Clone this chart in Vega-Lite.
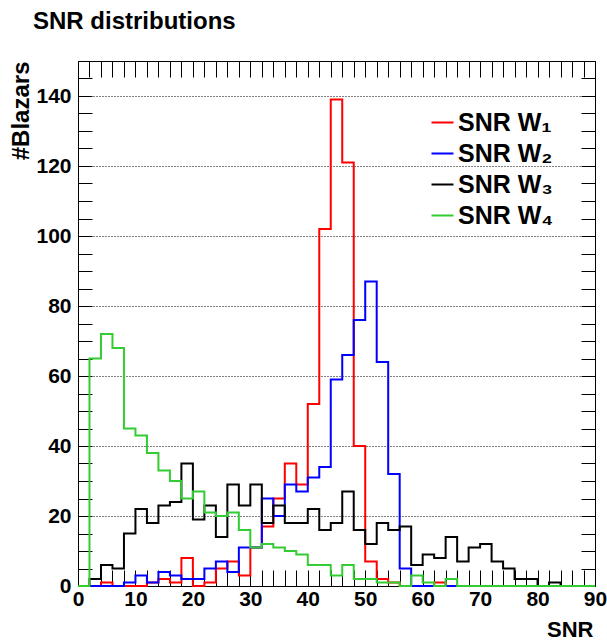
{
  "$schema": "https://vega.github.io/schema/vega-lite/v6.json",
  "width": 517,
  "height": 525,
  "autosize": {"type": "none"},
  "padding": {"left": 78, "top": 61, "right": 12, "bottom": 56},
  "background": "white",
  "config": {
    "font": "Liberation Sans",
    "view": {"stroke": "black", "strokeWidth": 1},
    "axis": {
      "domain": false,
      "labelFont": "Liberation Sans",
      "labelFontWeight": "bold",
      "labelFontSize": 21,
      "labelColor": "black",
      "tickColor": "black",
      "tickWidth": 1,
      "titleFont": "Liberation Sans",
      "titleFontWeight": "bold",
      "titleColor": "black",
      "labelOverlap": false,
      "labelFlush": false,
      "labelBound": false
    }
  },
  "title": {
    "text": "SNR distributions",
    "anchor": "start",
    "frame": "group",
    "font": "Liberation Sans",
    "fontSize": 24,
    "fontWeight": "bold",
    "color": "black",
    "baseline": "alphabetic",
    "offset": 16,
    "dx": -45,
    "dy": 19
  },
  "data": {
    "values": [
      {"s":"SNR W\u2081","x":0,"n":0},{"s":"SNR W\u2081","x":2,"n":0},{"s":"SNR W\u2081","x":4,"n":1},{"s":"SNR W\u2081","x":6,"n":0},{"s":"SNR W\u2081","x":8,"n":0},{"s":"SNR W\u2081","x":10,"n":0},{"s":"SNR W\u2081","x":12,"n":1},{"s":"SNR W\u2081","x":14,"n":2},{"s":"SNR W\u2081","x":16,"n":1},{"s":"SNR W\u2081","x":18,"n":8},{"s":"SNR W\u2081","x":20,"n":0},{"s":"SNR W\u2081","x":22,"n":1},{"s":"SNR W\u2081","x":24,"n":5},{"s":"SNR W\u2081","x":26,"n":7},{"s":"SNR W\u2081","x":28,"n":3},{"s":"SNR W\u2081","x":30,"n":11},{"s":"SNR W\u2081","x":32,"n":17},{"s":"SNR W\u2081","x":34,"n":25},{"s":"SNR W\u2081","x":36,"n":35},{"s":"SNR W\u2081","x":38,"n":29},{"s":"SNR W\u2081","x":40,"n":52},{"s":"SNR W\u2081","x":42,"n":102},{"s":"SNR W\u2081","x":44,"n":139},{"s":"SNR W\u2081","x":46,"n":121},{"s":"SNR W\u2081","x":48,"n":40},{"s":"SNR W\u2081","x":50,"n":7},{"s":"SNR W\u2081","x":52,"n":2},{"s":"SNR W\u2081","x":54,"n":1},{"s":"SNR W\u2081","x":56,"n":0},{"s":"SNR W\u2081","x":58,"n":0},{"s":"SNR W\u2081","x":60,"n":0},{"s":"SNR W\u2081","x":62,"n":1},{"s":"SNR W\u2081","x":64,"n":0},{"s":"SNR W\u2081","x":66,"n":0},{"s":"SNR W\u2081","x":68,"n":0},{"s":"SNR W\u2081","x":70,"n":0},{"s":"SNR W\u2081","x":72,"n":0},{"s":"SNR W\u2081","x":74,"n":0},{"s":"SNR W\u2081","x":76,"n":0},{"s":"SNR W\u2081","x":78,"n":0},{"s":"SNR W\u2081","x":80,"n":0},{"s":"SNR W\u2081","x":82,"n":0},{"s":"SNR W\u2081","x":84,"n":0},{"s":"SNR W\u2081","x":86,"n":0},{"s":"SNR W\u2081","x":88,"n":0},{"s":"SNR W\u2081","x":90,"n":0},
      {"s":"SNR W\u2082","x":0,"n":0},{"s":"SNR W\u2082","x":2,"n":0},{"s":"SNR W\u2082","x":4,"n":0},{"s":"SNR W\u2082","x":6,"n":0},{"s":"SNR W\u2082","x":8,"n":1},{"s":"SNR W\u2082","x":10,"n":3},{"s":"SNR W\u2082","x":12,"n":1},{"s":"SNR W\u2082","x":14,"n":4},{"s":"SNR W\u2082","x":16,"n":3},{"s":"SNR W\u2082","x":18,"n":2},{"s":"SNR W\u2082","x":20,"n":2},{"s":"SNR W\u2082","x":22,"n":5},{"s":"SNR W\u2082","x":24,"n":7},{"s":"SNR W\u2082","x":26,"n":4},{"s":"SNR W\u2082","x":28,"n":11},{"s":"SNR W\u2082","x":30,"n":11},{"s":"SNR W\u2082","x":32,"n":25},{"s":"SNR W\u2082","x":34,"n":20},{"s":"SNR W\u2082","x":36,"n":29},{"s":"SNR W\u2082","x":38,"n":27},{"s":"SNR W\u2082","x":40,"n":31},{"s":"SNR W\u2082","x":42,"n":34},{"s":"SNR W\u2082","x":44,"n":59},{"s":"SNR W\u2082","x":46,"n":66},{"s":"SNR W\u2082","x":48,"n":76},{"s":"SNR W\u2082","x":50,"n":87},{"s":"SNR W\u2082","x":52,"n":64},{"s":"SNR W\u2082","x":54,"n":32},{"s":"SNR W\u2082","x":56,"n":5},{"s":"SNR W\u2082","x":58,"n":0},{"s":"SNR W\u2082","x":60,"n":0},{"s":"SNR W\u2082","x":62,"n":0},{"s":"SNR W\u2082","x":64,"n":0},{"s":"SNR W\u2082","x":66,"n":0},{"s":"SNR W\u2082","x":68,"n":0},{"s":"SNR W\u2082","x":70,"n":0},{"s":"SNR W\u2082","x":72,"n":0},{"s":"SNR W\u2082","x":74,"n":0},{"s":"SNR W\u2082","x":76,"n":0},{"s":"SNR W\u2082","x":78,"n":0},{"s":"SNR W\u2082","x":80,"n":0},{"s":"SNR W\u2082","x":82,"n":0},{"s":"SNR W\u2082","x":84,"n":0},{"s":"SNR W\u2082","x":86,"n":0},{"s":"SNR W\u2082","x":88,"n":0},{"s":"SNR W\u2082","x":90,"n":0},
      {"s":"SNR W\u2083","x":0,"n":0},{"s":"SNR W\u2083","x":2,"n":2},{"s":"SNR W\u2083","x":4,"n":6},{"s":"SNR W\u2083","x":6,"n":5},{"s":"SNR W\u2083","x":8,"n":15},{"s":"SNR W\u2083","x":10,"n":22},{"s":"SNR W\u2083","x":12,"n":18},{"s":"SNR W\u2083","x":14,"n":23},{"s":"SNR W\u2083","x":16,"n":24},{"s":"SNR W\u2083","x":18,"n":35},{"s":"SNR W\u2083","x":20,"n":19},{"s":"SNR W\u2083","x":22,"n":23},{"s":"SNR W\u2083","x":24,"n":14},{"s":"SNR W\u2083","x":26,"n":29},{"s":"SNR W\u2083","x":28,"n":23},{"s":"SNR W\u2083","x":30,"n":29},{"s":"SNR W\u2083","x":32,"n":18},{"s":"SNR W\u2083","x":34,"n":23},{"s":"SNR W\u2083","x":36,"n":18},{"s":"SNR W\u2083","x":38,"n":18},{"s":"SNR W\u2083","x":40,"n":22},{"s":"SNR W\u2083","x":42,"n":16},{"s":"SNR W\u2083","x":44,"n":18},{"s":"SNR W\u2083","x":46,"n":27},{"s":"SNR W\u2083","x":48,"n":16},{"s":"SNR W\u2083","x":50,"n":12},{"s":"SNR W\u2083","x":52,"n":18},{"s":"SNR W\u2083","x":54,"n":16},{"s":"SNR W\u2083","x":56,"n":17},{"s":"SNR W\u2083","x":58,"n":6},{"s":"SNR W\u2083","x":60,"n":9},{"s":"SNR W\u2083","x":62,"n":8},{"s":"SNR W\u2083","x":64,"n":14},{"s":"SNR W\u2083","x":66,"n":7},{"s":"SNR W\u2083","x":68,"n":11},{"s":"SNR W\u2083","x":70,"n":12},{"s":"SNR W\u2083","x":72,"n":7},{"s":"SNR W\u2083","x":74,"n":5},{"s":"SNR W\u2083","x":76,"n":2},{"s":"SNR W\u2083","x":78,"n":2},{"s":"SNR W\u2083","x":80,"n":0},{"s":"SNR W\u2083","x":82,"n":1},{"s":"SNR W\u2083","x":84,"n":0},{"s":"SNR W\u2083","x":86,"n":0},{"s":"SNR W\u2083","x":88,"n":0},{"s":"SNR W\u2083","x":90,"n":0},
      {"s":"SNR W\u2084","x":0,"n":0},{"s":"SNR W\u2084","x":2,"n":65},{"s":"SNR W\u2084","x":4,"n":72},{"s":"SNR W\u2084","x":6,"n":68},{"s":"SNR W\u2084","x":8,"n":45},{"s":"SNR W\u2084","x":10,"n":43},{"s":"SNR W\u2084","x":12,"n":38},{"s":"SNR W\u2084","x":14,"n":33},{"s":"SNR W\u2084","x":16,"n":30},{"s":"SNR W\u2084","x":18,"n":25},{"s":"SNR W\u2084","x":20,"n":27},{"s":"SNR W\u2084","x":22,"n":21},{"s":"SNR W\u2084","x":24,"n":20},{"s":"SNR W\u2084","x":26,"n":21},{"s":"SNR W\u2084","x":28,"n":16},{"s":"SNR W\u2084","x":30,"n":11},{"s":"SNR W\u2084","x":32,"n":12},{"s":"SNR W\u2084","x":34,"n":11},{"s":"SNR W\u2084","x":36,"n":10},{"s":"SNR W\u2084","x":38,"n":9},{"s":"SNR W\u2084","x":40,"n":6},{"s":"SNR W\u2084","x":42,"n":6},{"s":"SNR W\u2084","x":44,"n":3},{"s":"SNR W\u2084","x":46,"n":6},{"s":"SNR W\u2084","x":48,"n":2},{"s":"SNR W\u2084","x":50,"n":2},{"s":"SNR W\u2084","x":52,"n":1},{"s":"SNR W\u2084","x":54,"n":1},{"s":"SNR W\u2084","x":56,"n":0},{"s":"SNR W\u2084","x":58,"n":3},{"s":"SNR W\u2084","x":60,"n":1},{"s":"SNR W\u2084","x":62,"n":0},{"s":"SNR W\u2084","x":64,"n":2},{"s":"SNR W\u2084","x":66,"n":0},{"s":"SNR W\u2084","x":68,"n":0},{"s":"SNR W\u2084","x":70,"n":0},{"s":"SNR W\u2084","x":72,"n":0},{"s":"SNR W\u2084","x":74,"n":0},{"s":"SNR W\u2084","x":76,"n":0},{"s":"SNR W\u2084","x":78,"n":0},{"s":"SNR W\u2084","x":80,"n":0},{"s":"SNR W\u2084","x":82,"n":0},{"s":"SNR W\u2084","x":84,"n":0},{"s":"SNR W\u2084","x":86,"n":0},{"s":"SNR W\u2084","x":88,"n":0},{"s":"SNR W\u2084","x":90,"n":0}
    ]
  },
  "layer": [
    {
      "mark": {"type": "line", "interpolate": "step-after", "strokeWidth": 2, "strokeJoin": "miter"},
      "encoding": {
        "x": {
          "field": "x", "type": "quantitative",
          "scale": {"domain": [0, 90], "nice": false, "zero": false},
          "axis": {
            "orient": "bottom",
            "values": [0,2,4,6,8,10,12,14,16,18,20,22,24,26,28,30,32,34,36,38,40,42,44,46,48,50,52,54,56,58,60,62,64,66,68,70,72,74,76,78,80,82,84,86,88,90],
            "tickSize": -16,
            "encode": {"ticks": {"update": {"y2": {"signal": "datum.value % 10 === 0 ? -16 : -8"}}}},
            "labelExpr": "datum.value % 10 === 0 ? datum.label : ''",
            "labelPadding": 18,
            "grid": false,
            "title": "SNR",
            "titleFontSize": 22,
            "titleAnchor": null,
            "titleAlign": "right",
            "titleBaseline": "alphabetic",
            "titleX": 515,
            "titleY": 50
          }
        },
        "y": {
          "field": "n", "type": "quantitative",
          "scale": {"domain": [0, 150], "nice": false},
          "axis": {
            "orient": "left",
            "values": [0,5,10,15,20,25,30,35,40,45,50,55,60,65,70,75,80,85,90,95,100,105,110,115,120,125,130,135,140,145,150],
            "tickSize": -14,
            "encode": {
              "ticks": {"update": {"x2": {"signal": "datum.value % 20 === 0 ? 14 : 7"}}}
            },
            "labelExpr": "datum.value % 20 === 0 ? datum.label : ''",
            "labelPadding": 21,
            "grid": true,
            "gridColor": "black",
            "gridDash": [1, 2],
            "gridWidth": 1,
            "gridOpacity": {"condition": {"test": "datum.value % 20 === 0 && datum.value > 0", "value": 1}, "value": 0},
            "title": "#Blazars",
            "titleFontSize": 24,
            "titleAnchor": null,
            "titleAngle": -90,
            "titleAlign": "right",
            "titleBaseline": "alphabetic",
            "titleX": -50,
            "titleY": 0
          }
        },
        "color": {
          "field": "s", "type": "nominal",
          "scale": {"domain": ["SNR W\u2081", "SNR W\u2082", "SNR W\u2083", "SNR W\u2084"], "range": ["#ff0000", "#0000ff", "#000000", "#33cc33"]},
          "legend": {
            "orient": "none",
            "legendX": 352,
            "legendY": 49,
            "title": null,
            "symbolType": "stroke",
            "symbolSize": 484,
            "symbolStrokeWidth": 2,
            "labelFont": "Liberation Sans",
            "labelFontWeight": "bold",
            "labelFontSize": 25,
            "labelColor": "black",
            "labelOffset": 3,
            "rowPadding": 5,
            "padding": 0
          }
        }
      }
    },
    {
      "mark": {"type": "line", "opacity": 0},
      "encoding": {
        "x": {
          "field": "x", "type": "quantitative",
          "axis": {
            "orient": "top",
            "values": [0,2,4,6,8,10,12,14,16,18,20,22,24,26,28,30,32,34,36,38,40,42,44,46,48,50,52,54,56,58,60,62,64,66,68,70,72,74,76,78,80,82,84,86,88,90],
            "tickSize": -16,
            "encode": {"ticks": {"update": {"y2": {"signal": "datum.value % 10 === 0 ? 16 : 8"}}}},
            "labels": false,
            "grid": false,
            "title": null
          }
        },
        "y": {
          "field": "n", "type": "quantitative",
          "axis": {
            "orient": "right",
            "values": [0,5,10,15,20,25,30,35,40,45,50,55,60,65,70,75,80,85,90,95,100,105,110,115,120,125,130,135,140,145,150],
            "tickSize": -14,
            "encode": {"ticks": {"update": {"x2": {"signal": "datum.value % 20 === 0 ? -14 : -7"}}}},
            "labels": false,
            "grid": false,
            "title": null
          }
        },
        "detail": {"field": "s", "type": "nominal"}
      }
    }
  ],
  "resolve": {"axis": {"x": "independent", "y": "independent"}}
}
